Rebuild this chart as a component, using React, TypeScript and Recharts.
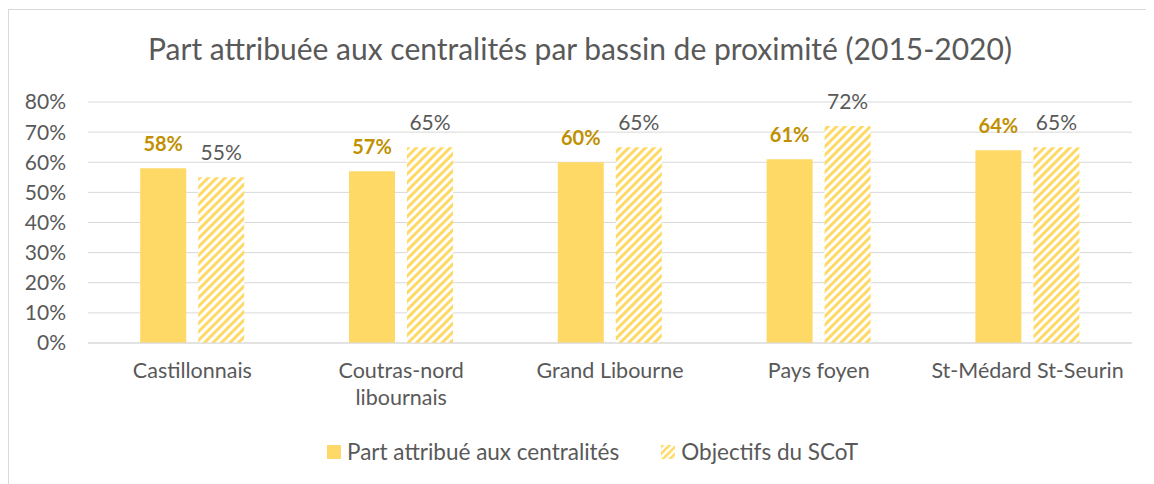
import { Bar, BarChart, CartesianGrid, LabelList, XAxis, YAxis } from "recharts";

const categories = ["Castillonnais", "Coutras-nord libournais", "Grand Libourne", "Pays foyen", "St-Médard St-Seurin"];
const tickLines = [["Castillonnais"], ["Coutras-nord", "libournais"], ["Grand Libourne"], ["Pays foyen"], ["St-Médard St-Seurin"]];
const partCentralites = [58, 57, 60, 61, 64];
const objectifsScot = [55, 65, 65, 72, 65];
const yTicks = [0, 10, 20, 30, 40, 50, 60, 70, 80];

const FONT = "Lato, 'Open Sans', sans-serif";
const GOLD = "#FFD966";
const GRAY = "#595959";

const data = categories.map((c, i) => ({
  name: c,
  part: partCentralites[i],
  obj: objectifsScot[i],
}));

function CatTick(props: any) {
  const { x, y, payload } = props;
  const lines = tickLines[payload.index] ?? [payload.value];
  return (
    <text x={x} y={y} textAnchor="middle" fill={GRAY} fontSize={21.5} fontFamily={FONT}>
      {lines.map((l: string, i: number) => (
        <tspan key={i} x={x} dy={i === 0 ? "0.8em" : "1.25em"}>
          {l}
        </tspan>
      ))}
    </text>
  );
}

function LegendRow() {
  const item = (fill: string, label: string, mr: number) => (
    <div style={{ display: "flex", alignItems: "center", marginRight: mr }}>
      <svg width={14} height={14} style={{ marginRight: 6 }}>
        <rect x={0} y={0} width={14} height={14} fill={fill} />
      </svg>
      <span>{label}</span>
    </div>
  );
  return (
    <div
      style={{
        position: "absolute",
        top: 428,
        left: 318,
        display: "flex",
        fontFamily: FONT,
        fontSize: 22.5,
        color: GRAY,
      }}
    >
      <svg width={0} height={0} style={{ position: "absolute" }}>
        <defs>
          <pattern id="hatchLeg" patternUnits="userSpaceOnUse" width={5} height={5} patternTransform="rotate(45)">
            <rect width={5} height={5} fill="#fff" />
            <rect width={2.5} height={5} fill={GOLD} />
          </pattern>
        </defs>
      </svg>
      {item(GOLD, "Part attribué aux centralités", 42)}
      {item("url(#hatchLeg)", "Objectifs du SCoT", 0)}
    </div>
  );
}

export default function App() {
  return (
    <div
      style={{
        position: "relative",
        width: 1160,
        height: 490,
        border: "1px solid #d9d9d9",
        background: "#fff",
        marginTop: 1,
      }}
    >
      <div
        style={{
          position: "absolute",
          top: 20,
          left: 0,
          width: 1142,
          textAlign: "center",
          fontFamily: FONT,
          fontSize: 30,
          color: GRAY,
        }}
      >
        Part attribuée aux centralités par bassin de proximité (2015-2020)
      </div>
      <BarChart
        width={1160}
        height={430}
        data={data}
        margin={{ top: 92, right: 37, bottom: 0, left: 0 }}
        barCategoryGap="25%"
        barGap={12}
      >
        <defs>
          <pattern id="hatch" patternUnits="userSpaceOnUse" width={6} height={6} patternTransform="rotate(45)">
            <rect width={6} height={6} fill="#fff" />
            <rect width={3} height={6} fill={GOLD} />
          </pattern>
        </defs>
        <CartesianGrid vertical={false} stroke="#d9d9d9" />
        <XAxis
          dataKey="name"
          tick={<CatTick />}
          tickLine={false}
          axisLine={{ stroke: "#d9d9d9" }}
          interval={0}
          tickMargin={12}
          height={97}
        />
        <YAxis
          domain={[0, 80]}
          ticks={yTicks}
          tickFormatter={(v: number) => `${v}%`}
          tickLine={false}
          axisLine={false}
          width={79}
          tickMargin={16}
          tick={{ fill: GRAY, fontSize: 21, fontFamily: FONT }}
        />
        <Bar dataKey="part" fill={GOLD} isAnimationActive={false}>
          <LabelList
            dataKey="part"
            position="top"
            offset={17}
            formatter={(v: any) => `${v}%`}
            style={{ fill: "#BF9000", fontSize: 20, fontWeight: 700, fontFamily: FONT }}
          />
        </Bar>
        <Bar dataKey="obj" fill="url(#hatch)" isAnimationActive={false}>
          <LabelList
            dataKey="obj"
            position="top"
            offset={17}
            formatter={(v: any) => `${v}%`}
            style={{ fill: GRAY, fontSize: 21, fontFamily: FONT }}
          />
        </Bar>
      </BarChart>
      <LegendRow />
    </div>
  );
}
